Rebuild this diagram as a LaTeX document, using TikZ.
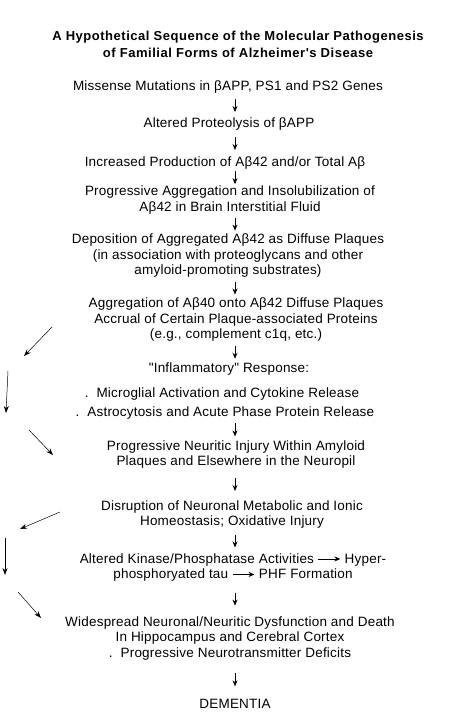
\documentclass[tikz,border=0pt]{standalone}
\usepackage{fontspec}
\newfontfamily\plainsans{Liberation Sans}[LetterSpace=1.5]
\newfontfamily\titlesans{Liberation Sans}[LetterSpace=4]
\usepackage{tikz}
\usetikzlibrary{arrows.meta,calc}

\newcommand{\tipto}{\tikz[baseline=-0.6ex]\draw[-{Stealth[length=6pt,width=5pt]}, line width=0.8pt] (0pt,0pt) -- (22pt,0pt);}

\begin{document}
\begin{tikzpicture}[x=1pt,y=-1pt]
            \tikzset{box/.style = {align=center, inner sep=0pt, font=\plainsans\fontsize{13.5}{15.5}\selectfont}}
            \tikzset{edge/.style = {-{Stealth[length=6pt,width=5pt]}, line width=0.8pt}}
            \tikzset{side/.style = {-{Stealth[length=7pt,width=5pt]}, line width=0.5pt}}

            \useasboundingbox (0,0) rectangle (470,713);

            % title
            \node[box, font=\titlesans\bfseries\fontsize{13}{17}\selectfont] (title) at (238,44.5) {A Hypothetical Sequence of the Molecular Pathogenesis\\of Familial Forms of Alzheimer's Disease};

            % steps
            \node[box] (mut) at (228,87) {Missense Mutations in βAPP, PS1 and PS2 Genes};
            \node[box] (prot) at (229,124) {Altered Proteolysis of βAPP};
            \node[box] (prod) at (225,163) {Increased Production of Aβ42 and/or Total Aβ};
            \node[box] (aggr) at (230,200) {Progressive Aggregation and Insolubilization of\\Aβ42 in Brain Interstitial Fluid};
            \node[box] (depo) at (228,256) {Deposition of Aggregated Aβ42 as Diffuse Plaques\\(in association with proteoglycans and other\\amyloid-promoting substrates)};
            \node[box] (accr) at (236,320) {Aggregation of Aβ40 onto Aβ42 Diffuse Plaques\\Accrual of Certain Plaque-associated Proteins\\(e.g., complement c1q, etc.)};
            \node[box] (infl) at (229,369) {"Inflammatory" Response:};
            \node[box] (micro) at (222,394) {.\ \ Microglial Activation and Cytokine Release};
            \node[box] (astro) at (225,413) {.\ \ Astrocytosis and Acute Phase Protein Release};
            \node[box] (neur) at (236,454.5) {Progressive Neuritic Injury Within Amyloid\\Plaques and Elsewhere in the Neuropil};
            \node[box] (disr) at (232,514.5) {Disruption of Neuronal Metabolic and Ionic\\Homeostasis; Oxidative Injury};
            \node[box] (kin) at (233,567.5) {Altered Kinase/Phosphatase Activities \tipto{} Hyper-\\phosphoryated tau \tipto{} PHF Formation};
            \node[box] (wide) at (230,638.5) {Widespread Neuronal/Neuritic Dysfunction and Death\\In Hippocampus and Cerebral Cortex\\.\ \ Progressive Neurotransmitter Deficits};
            \node[box] (dem) at (235,704) {DEMENTIA};

            % edges
            \coordinate (axis) at (235,0);
            \foreach \a/\b in {mut/prot,prot/prod,prod/aggr,aggr/depo,depo/accr,accr/infl,astro/neur,neur/disr,disr/kin,kin/wide,wide/dem}
              {\draw[edge] ($(\a.south -| axis)!.5!(\b.north -| axis)$) ++(0,-6.5) -- ++(0,13);}

            % side arrows
            \foreach \n/\fx/\fy/\tx/\ty in {1/52/327/24/356, 2/8/371/6/413, 3/29/430/53/455, 4/60/512/20/529, 5/5/538/5/575, 6/18/592/41/618}
            {
              \coordinate (s\n) at (\fx,\fy);
              \coordinate (e\n) at (\tx,\ty);
              \draw[side] (s\n) -- (e\n);
            }

          \end{tikzpicture}
\end{document}
